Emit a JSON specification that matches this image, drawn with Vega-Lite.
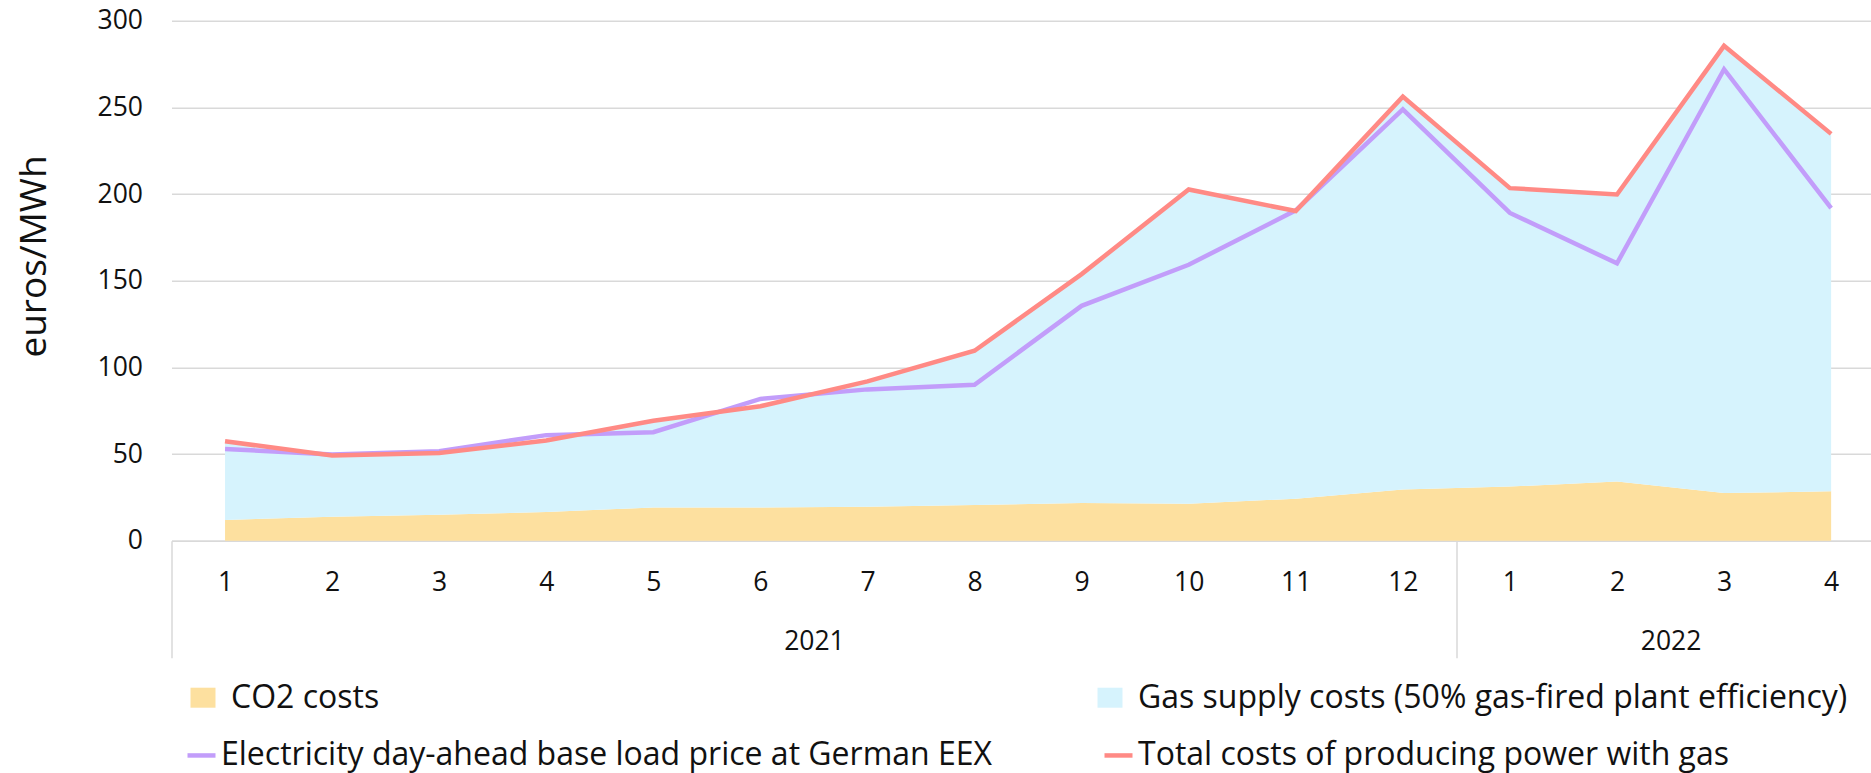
{
  "$schema": "https://vega.github.io/schema/vega-lite/v6.json",
  "autosize": {"type": "none"},
  "padding": {"left": 171.5, "top": 20.7, "right": 0, "bottom": 232.3},
  "width": 1700,
  "height": 520,
  "background": "white",
  "config": {
    "view": {"stroke": null},
    "font": "Open Sans",
    "legend": {"labelFont": "Open Sans", "labelFontSize": 32, "labelColor": "#111111", "labelLimit": 0, "padding": 0}
  },
  "datasets": {
    "areas": [
      {"idx": 1, "series": "CO2 costs", "value": 12.0},
      {"idx": 2, "series": "CO2 costs", "value": 13.8},
      {"idx": 3, "series": "CO2 costs", "value": 14.9},
      {"idx": 4, "series": "CO2 costs", "value": 16.5},
      {"idx": 5, "series": "CO2 costs", "value": 19.2},
      {"idx": 6, "series": "CO2 costs", "value": 19.2},
      {"idx": 7, "series": "CO2 costs", "value": 19.6},
      {"idx": 8, "series": "CO2 costs", "value": 20.6},
      {"idx": 9, "series": "CO2 costs", "value": 21.7},
      {"idx": 10, "series": "CO2 costs", "value": 21.3},
      {"idx": 11, "series": "CO2 costs", "value": 24.2},
      {"idx": 12, "series": "CO2 costs", "value": 29.5},
      {"idx": 13, "series": "CO2 costs", "value": 31.2},
      {"idx": 14, "series": "CO2 costs", "value": 34.1},
      {"idx": 15, "series": "CO2 costs", "value": 27.5},
      {"idx": 16, "series": "CO2 costs", "value": 28.5},
      {"idx": 1, "series": "Gas supply costs (50% gas-fired plant efficiency)", "value": 45.4},
      {"idx": 2, "series": "Gas supply costs (50% gas-fired plant efficiency)", "value": 35.3},
      {"idx": 3, "series": "Gas supply costs (50% gas-fired plant efficiency)", "value": 35.7},
      {"idx": 4, "series": "Gas supply costs (50% gas-fired plant efficiency)", "value": 41.3},
      {"idx": 5, "series": "Gas supply costs (50% gas-fired plant efficiency)", "value": 50.0},
      {"idx": 6, "series": "Gas supply costs (50% gas-fired plant efficiency)", "value": 58.4},
      {"idx": 7, "series": "Gas supply costs (50% gas-fired plant efficiency)", "value": 72.3},
      {"idx": 8, "series": "Gas supply costs (50% gas-fired plant efficiency)", "value": 89.0},
      {"idx": 9, "series": "Gas supply costs (50% gas-fired plant efficiency)", "value": 132.1},
      {"idx": 10, "series": "Gas supply costs (50% gas-fired plant efficiency)", "value": 181.3},
      {"idx": 11, "series": "Gas supply costs (50% gas-fired plant efficiency)", "value": 166.0},
      {"idx": 12, "series": "Gas supply costs (50% gas-fired plant efficiency)", "value": 226.7},
      {"idx": 13, "series": "Gas supply costs (50% gas-fired plant efficiency)", "value": 172.2},
      {"idx": 14, "series": "Gas supply costs (50% gas-fired plant efficiency)", "value": 165.6},
      {"idx": 15, "series": "Gas supply costs (50% gas-fired plant efficiency)", "value": 258.0},
      {"idx": 16, "series": "Gas supply costs (50% gas-fired plant efficiency)", "value": 206.2}
    ],
    "lines": [
      {"idx": 1, "series": "Electricity day-ahead base load price at German EEX", "value": 52.9},
      {"idx": 2, "series": "Electricity day-ahead base load price at German EEX", "value": 49.8},
      {"idx": 3, "series": "Electricity day-ahead base load price at German EEX", "value": 51.6},
      {"idx": 4, "series": "Electricity day-ahead base load price at German EEX", "value": 60.9},
      {"idx": 5, "series": "Electricity day-ahead base load price at German EEX", "value": 62.6},
      {"idx": 6, "series": "Electricity day-ahead base load price at German EEX", "value": 81.8},
      {"idx": 7, "series": "Electricity day-ahead base load price at German EEX", "value": 87.3},
      {"idx": 8, "series": "Electricity day-ahead base load price at German EEX", "value": 90.0},
      {"idx": 9, "series": "Electricity day-ahead base load price at German EEX", "value": 135.5},
      {"idx": 10, "series": "Electricity day-ahead base load price at German EEX", "value": 159.2},
      {"idx": 11, "series": "Electricity day-ahead base load price at German EEX", "value": 190.6},
      {"idx": 12, "series": "Electricity day-ahead base load price at German EEX", "value": 248.8},
      {"idx": 13, "series": "Electricity day-ahead base load price at German EEX", "value": 189.1},
      {"idx": 14, "series": "Electricity day-ahead base load price at German EEX", "value": 160.0},
      {"idx": 15, "series": "Electricity day-ahead base load price at German EEX", "value": 272.0},
      {"idx": 16, "series": "Electricity day-ahead base load price at German EEX", "value": 191.8},
      {"idx": 1, "series": "Total costs of producing power with gas", "value": 57.4},
      {"idx": 2, "series": "Total costs of producing power with gas", "value": 49.1},
      {"idx": 3, "series": "Total costs of producing power with gas", "value": 50.6},
      {"idx": 4, "series": "Total costs of producing power with gas", "value": 57.8},
      {"idx": 5, "series": "Total costs of producing power with gas", "value": 69.2},
      {"idx": 6, "series": "Total costs of producing power with gas", "value": 77.6},
      {"idx": 7, "series": "Total costs of producing power with gas", "value": 91.9},
      {"idx": 8, "series": "Total costs of producing power with gas", "value": 109.6},
      {"idx": 9, "series": "Total costs of producing power with gas", "value": 153.8},
      {"idx": 10, "series": "Total costs of producing power with gas", "value": 202.6},
      {"idx": 11, "series": "Total costs of producing power with gas", "value": 190.2},
      {"idx": 12, "series": "Total costs of producing power with gas", "value": 256.2},
      {"idx": 13, "series": "Total costs of producing power with gas", "value": 203.4},
      {"idx": 14, "series": "Total costs of producing power with gas", "value": 199.7},
      {"idx": 15, "series": "Total costs of producing power with gas", "value": 285.5},
      {"idx": 16, "series": "Total costs of producing power with gas", "value": 234.7}
    ]
  },
  "resolve": {"axis": {"x": "independent"}},
  "layer": [
    {
      "data": {"name": "areas"},
      "mark": {"type": "area", "interpolate": "linear"},
      "encoding": {
        "x": {
          "field": "idx", "type": "quantitative",
          "scale": {"domain": [0.5, 16.377], "nice": false, "zero": false},
          "axis": {
            "orient": "bottom",
            "title": null,
            "grid": false,
            "values": [0.5, 1, 2, 3, 4, 5, 6, 7, 8, 9, 10, 11, 12, 12.5, 13, 14, 15, 16],
            "labelExpr": "datum.value % 1 != 0 ? '' : (datum.value > 12 ? '' + (datum.value - 12) : '' + datum.value)",
            "labelFont": "Open Sans", "labelFontSize": 26.5, "labelColor": "#111111",
            "labelPadding": -88, "labelOverlap": false, "labelFlush": false, "labelBound": false,
            "ticks": true, "tickSize": 117, "tickWidth": 1.5, "tickColor": "#D9D9D9",
            "tickOpacity": {"condition": {"test": "datum.value % 1 != 0", "value": 1}, "value": 0},
            "domain": true, "domainColor": "#D9D9D9", "domainWidth": 1.5
          }
        },
        "y": {
          "field": "value", "type": "quantitative", "stack": "zero",
          "scale": {"domain": [0, 300], "nice": false},
          "axis": {
            "values": [0, 50, 100, 150, 200, 250, 300],
            "title": "euros/MWh",
            "titleFont": "Open Sans", "titleFontSize": 37, "titleFontWeight": "normal", "titleColor": "#111111",
            "titleAngle": 270, "titleX": -126.5, "titleY": 235.3, "titleAlign": "center", "titleBaseline": "alphabetic",
            "labelFont": "Open Sans", "labelFontSize": 26.5, "labelColor": "#111111", "labelPadding": 29,
            "ticks": false, "domain": false,
            "grid": true, "gridColor": "#D9D9D9", "gridWidth": 1.5
          }
        },
        "order": {"field": "series", "sort": "ascending"},
        "fill": {
          "field": "series", "type": "nominal",
          "scale": {"domain": ["CO2 costs", "Gas supply costs (50% gas-fired plant efficiency)"], "range": ["#FDE09F", "#D6F3FD"]},
          "legend": {
            "title": null, "orient": "none", "legendX": 15.5, "legendY": 661,
            "direction": "horizontal", "columns": 2, "columnPadding": 714,
            "symbolType": "M-1,-0.8H1V0.8H-1Z", "symbolSize": 625, "symbolStrokeWidth": 0,
            "labelOffset": 12
          }
        }
      }
    },
    {
      "data": {"name": "lines"},
      "mark": {"type": "line", "strokeWidth": 4.5, "interpolate": "linear"},
      "encoding": {
        "x": {
          "field": "idx", "type": "quantitative",
          "axis": {
            "orient": "bottom",
            "title": null, "grid": false, "ticks": false, "domain": false,
            "values": [6.5, 14.5],
            "labelExpr": "datum.value < 12.5 ? '2021' : '2022'",
            "labelFont": "Open Sans", "labelFontSize": 26.5, "labelColor": "#111111",
            "labelPadding": 88, "labelOverlap": false, "labelFlush": false, "labelBound": false
          }
        },
        "y": {"field": "value", "type": "quantitative"},
        "stroke": {
          "field": "series", "type": "nominal",
          "scale": {"domain": ["Electricity day-ahead base load price at German EEX", "Total costs of producing power with gas"], "range": ["#C29DFA", "#FF8A85"]},
          "legend": {
            "title": null, "orient": "none", "legendX": 13.5, "legendY": 718,
            "direction": "horizontal", "columns": 2, "columnPadding": 102,
            "symbolType": "stroke", "symbolSize": 784, "symbolStrokeWidth": 4.5,
            "labelOffset": 3
          }
        }
      }
    }
  ]
}
